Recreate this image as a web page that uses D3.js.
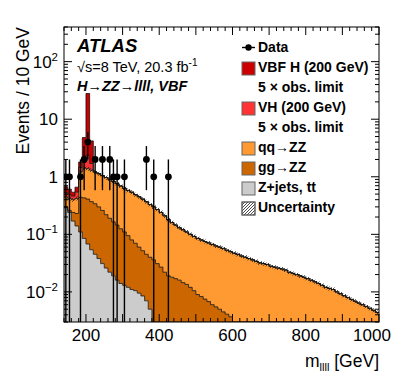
<!DOCTYPE html>
<html>
<head>
<meta charset="utf-8">
<script src="https://cdn.jsdelivr.net/npm/d3@7"></script>
<style>
  body { margin: 0; background: #fff; }
  svg { font-family: "Liberation Sans", Arial, Helvetica, sans-serif; }
</style>
</head>
<body>
<div id="chart"></div>
<script>
// binning: 10 GeV bins from 140 to 1000 GeV
const binLow = 140, binWidth = 10;

// Z+jets, tt (per bin, 145 ... 995 GeV)
const zjets = [
  0.29, 0.24, 0.17, 0.14, 0.11, 0.085, 0.068, 0.054, 0.045, 0.038,
  0.031, 0.026, 0.022, 0.019, 0.016, 0.014, 0.013, 0.012, 0.011, 0.0105,
  0.0095, 0.0085, 0.007, 0.005, 0, 0, 0, 0, 0, 0,
  0, 0, 0, 0, 0, 0, 0, 0, 0, 0,
  0, 0, 0, 0, 0, 0, 0, 0, 0, 0,
  0, 0, 0, 0, 0, 0, 0, 0, 0, 0,
  0, 0, 0, 0, 0, 0, 0, 0, 0, 0,
  0, 0, 0, 0, 0, 0, 0, 0, 0, 0,
  0, 0, 0, 0, 0, 0
];
// gg -> ZZ
const ggzz = [
  0.01, 0.02, 0.07, 0.09, 0.33, 0.345, 0.342, 0.316, 0.295, 0.262,
  0.229, 0.194, 0.168, 0.146, 0.129, 0.111, 0.097, 0.083, 0.069, 0.0595,
  0.0505, 0.0435, 0.038, 0.035, 0.036, 0.031, 0.027, 0.022, 0.019, 0.018,
  0.017, 0.016, 0.0145, 0.0135, 0.012, 0.0105, 0.009, 0.0083, 0.0075, 0.0068,
  0.006, 0.0055, 0.005, 0.0045, 0.0041, 0.0037, 0, 0, 0, 0,
  0, 0, 0, 0, 0, 0, 0, 0, 0, 0,
  0, 0, 0, 0, 0, 0, 0, 0, 0, 0,
  0, 0, 0, 0, 0, 0, 0, 0, 0, 0,
  0, 0, 0, 0, 0, 0
];
// qq -> ZZ
const qqzz = [
  0.15, 0.16, 0.16, 0.19, 0.76, 0.97, 0.97, 0.93, 0.87, 0.83,
  0.79, 0.75, 0.71, 0.665, 0.615, 0.565, 0.52, 0.485, 0.46, 0.42,
  0.39, 0.358, 0.325, 0.29, 0.264, 0.239, 0.213, 0.188, 0.161, 0.142,
  0.128, 0.114, 0.1055, 0.0965, 0.088, 0.0815, 0.076, 0.0717, 0.0675, 0.0642,
  0.061, 0.0575, 0.055, 0.0525, 0.0489, 0.0463, 0.047, 0.045, 0.042, 0.040,
  0.038, 0.036, 0.034, 0.032, 0.031, 0.030, 0.028, 0.027, 0.026, 0.025,
  0.024, 0.022, 0.021, 0.020, 0.019, 0.018, 0.017, 0.016, 0.015, 0.014,
  0.013, 0.012, 0.0115, 0.011, 0.010, 0.0093, 0.0086, 0.008, 0.0074, 0.0069,
  0.0064, 0.006, 0.0056, 0.0052, 0.0048, 0.0044
];
// VH (200 GeV), 5 x obs. limit
const vh = [0.08, 0.07, 0.06, 0.12, 0.25, 0.4, 1.0, 0.4];
// VBF H (200 GeV), 5 x obs. limit
const vbf = [0.14, 0.12, 0.08, 0.12, 0.35, 3.0, 25.6, 2.5];
const bkgUncFrac = 0.08;

// data
const dataMass = [145, 155, 185, 195, 205, 225, 245, 265, 275, 285, 305, 365, 385, 425];
const dataCount = [1, 1, 1, 2, 4, 2, 2, 2, 1, 1, 1, 2, 1, 1];

const xTickLabels = [200, 400, 600, 800, 1000];
const yDecades = [0.01, 0.1, 1, 10, 100];

const colors = {
  vbf: "#cc0000", vh: "#ff3333", qq: "#ff9a33", gg: "#cc6600", zj: "#cccccc"
};

const margin = { top: 27, right: 20, bottom: 61, left: 64 },
      width = 399 - margin.left - margin.right,
      height = 383 - margin.top - margin.bottom;

const svg = d3.select("#chart").append("svg")
  .attr("width", 399).attr("height", 383);

const defs = svg.append("defs");
const hatch = defs.append("pattern")
  .attr("id", "hatch").attr("patternUnits", "userSpaceOnUse")
  .attr("width", 3).attr("height", 3);
hatch.append("path").attr("d", "M-1,1 l2,-2 M0,3 l3,-3 M2,4 l2,-2")
  .attr("stroke", "#222").attr("stroke-width", 0.8);
defs.append("clipPath").attr("id", "frame")
  .append("rect").attr("width", width).attr("height", height);

const g = svg.append("g").attr("transform", `translate(${margin.left},${margin.top})`);

const x = d3.scaleLinear().domain([140, 1000]).range([0, width]);
const yMin = 0.003;
const y = d3.scaleLog().domain([yMin, 400]).range([height, 0]).clamp(true);
const yv = v => y(Math.max(v, yMin));

const nBins = qqzz.length;
const get = (arr, i) => arr[i] || 0;

// cumulative stack, bottom to top
const layers = [
  { key: "zj", values: zjets },
  { key: "gg", values: ggzz },
  { key: "qq", values: qqzz },
  { key: "vh", values: vh },
  { key: "vbf", values: vbf }
];
let running = d3.range(nBins).map(() => 0);
layers.forEach(l => {
  l.lower = running.slice();
  l.upper = running.map((r, i) => r + get(l.values, i));
  running = l.upper;
});
const bkgTotal = layers[2].upper;

function steps(lower, upper) {
  const pts = [];
  for (let i = 0; i < nBins; i++) {
    const lo = binLow + i * binWidth;
    pts.push({ x: lo, y0: lower[i], y1: upper[i] });
    pts.push({ x: lo + binWidth, y0: lower[i], y1: upper[i] });
  }
  return pts;
}

const area = d3.area().x(d => x(d.x)).y0(d => yv(d.y0)).y1(d => yv(d.y1));
const topLine = d3.line().x(d => x(d.x)).y(d => yv(d.y1));

const plot = g.append("g").attr("clip-path", "url(#frame)");

layers.slice().reverse().forEach(l => {
  const pts = steps(l.lower, l.upper);
  plot.append("path").datum(pts)
    .attr("fill", colors[l.key]).attr("d", area);
});
layers.forEach(l => {
  const pts = steps(l.lower, l.upper);
  plot.append("path").datum(pts)
    .attr("fill", "none").attr("stroke", "#111").attr("stroke-width", 0.8)
    .attr("d", topLine);
});

// uncertainty band on total background
plot.append("path")
  .datum(steps(bkgTotal.map(v => v * (1 - bkgUncFrac)), bkgTotal.map(v => v * (1 + bkgUncFrac))))
  .attr("fill", "url(#hatch)").attr("d", area);

// data
const pts = dataMass.map((m, i) => ({ m, n: dataCount[i] }));
plot.selectAll(".ey").data(pts).join("line")
  .attr("x1", d => x(d.m)).attr("x2", d => x(d.m))
  .attr("y1", d => yv(d.n + Math.sqrt(d.n))).attr("y2", d => yv(d.n - Math.sqrt(d.n)))
  .attr("stroke", "#000").attr("stroke-width", 1.4);
plot.selectAll(".ex").data(pts).join("line")
  .attr("x1", d => x(d.m - binWidth / 2)).attr("x2", d => x(d.m + binWidth / 2))
  .attr("y1", d => y(d.n)).attr("y2", d => y(d.n))
  .attr("stroke", "#000").attr("stroke-width", 1.4);
plot.selectAll("circle").data(pts).join("circle")
  .attr("cx", d => x(d.m)).attr("cy", d => y(d.n)).attr("r", 3.4).attr("fill", "#000");

// frame and ticks
g.append("rect").attr("width", width).attr("height", height)
  .attr("fill", "none").attr("stroke", "#000").attr("stroke-width", 1);

const ticks = g.append("g").attr("stroke", "#000").attr("stroke-width", 1);
d3.range(140, 1001, 20).forEach(v => {
  const len = v % 100 === 0 ? 8 : 4;
  ticks.append("line").attr("x1", x(v)).attr("x2", x(v)).attr("y1", height).attr("y2", height - len);
  ticks.append("line").attr("x1", x(v)).attr("x2", x(v)).attr("y1", 0).attr("y2", len);
});
const yMinor = [];
[0.001, 0.01, 0.1, 1, 10, 100].forEach(d => {
  for (let k = 2; k <= 9; k++) if (k * d >= yMin && k * d <= 400) yMinor.push(k * d);
});
yMinor.forEach(v => {
  ticks.append("line").attr("x1", 0).attr("x2", 4).attr("y1", y(v)).attr("y2", y(v));
  ticks.append("line").attr("x1", width).attr("x2", width - 4).attr("y1", y(v)).attr("y2", y(v));
});
yDecades.forEach(v => {
  ticks.append("line").attr("x1", 0).attr("x2", 8).attr("y1", y(v)).attr("y2", y(v));
  ticks.append("line").attr("x1", width).attr("x2", width - 8).attr("y1", y(v)).attr("y2", y(v));
});

// tick labels
const fontTick = 17;
g.selectAll(".xl").data(xTickLabels).join("text")
  .attr("x", d => d === 1000 ? x(d) - 7 : x(d)).attr("y", height + 19)
  .attr("text-anchor", "middle").attr("font-size", fontTick)
  .text(d => d);

yDecades.forEach(v => {
  const e = Math.round(Math.log10(v));
  const t = g.append("text").attr("x", -6).attr("y", y(v) + 6)
    .attr("text-anchor", "end").attr("font-size", fontTick);
  if (e === 0) t.text("1");
  else if (e === 1) t.text("10");
  else {
    t.append("tspan").text("10");
    t.append("tspan").attr("dy", -7).attr("font-size", 11.5).text(e < 0 ? "\u2212" + (-e) : e);
  }
});

// axis titles
const xt = svg.append("text").attr("x", margin.left + width).attr("y", 367)
  .attr("text-anchor", "end").attr("font-size", 17.5);
xt.append("tspan").text("m");
xt.append("tspan").attr("dy", 4).attr("font-size", 11).text("llll");
xt.append("tspan").attr("dy", -4).text(" [GeV]");

svg.append("text")
  .attr("transform", `translate(29,${margin.top}) rotate(-90)`)
  .attr("text-anchor", "end").attr("font-size", 17.5)
  .text("Events / 10 GeV");

// ATLAS labels
svg.append("text").attr("x", 77).attr("y", 52)
  .attr("font-size", 18.5).attr("font-weight", "bold").attr("font-style", "italic")
  .text("ATLAS");
const en = svg.append("text").attr("x", 77).attr("y", 72).attr("font-size", 14.5);
en.append("tspan").text("\u221As=8 TeV, 20.3 fb");
en.append("tspan").attr("dy", -6).attr("font-size", 10).text("-1");
svg.append("text").attr("x", 77).attr("y", 91)
  .attr("font-size", 14.5).attr("font-weight", "bold").attr("font-style", "italic")
  .text("H\u2192ZZ\u2192llll, VBF");

// legend
const legendItems = [
  { label: "Data", kind: "data" },
  { label: "VBF H (200 GeV)", kind: "vbf" },
  { label: "5 \u00D7 obs. limit", kind: "none" },
  { label: "VH (200 GeV)", kind: "vh" },
  { label: "5 \u00D7 obs. limit", kind: "none" },
  { label: "qq\u2192ZZ", kind: "qq" },
  { label: "gg\u2192ZZ", kind: "gg" },
  { label: "Z+jets, tt", kind: "zj" },
  { label: "Uncertainty", kind: "unc" }
];
const leg = svg.append("g");
legendItems.forEach((d, i) => {
  const by = 52 + i * 20;
  if (d.kind === "data") {
    leg.append("line").attr("x1", 242).attr("x2", 255).attr("y1", by - 4.5).attr("y2", by - 4.5)
      .attr("stroke", "#000").attr("stroke-width", 1.4);
    leg.append("circle").attr("cx", 248.5).attr("cy", by - 4.5).attr("r", 3.2).attr("fill", "#000");
  } else if (d.kind === "unc") {
    leg.append("rect").attr("x", 242).attr("y", by - 10).attr("width", 13).attr("height", 13)
      .attr("fill", "#fff").attr("stroke", "#666");
    leg.append("rect").attr("x", 242).attr("y", by - 10).attr("width", 13).attr("height", 13)
      .attr("fill", "url(#hatch)").attr("stroke", "#666");
  } else if (d.kind !== "none") {
    leg.append("rect").attr("x", 242).attr("y", by - 10).attr("width", 13).attr("height", 13)
      .attr("fill", colors[d.kind]).attr("stroke", "#666");
  }
  leg.append("text").attr("x", 258).attr("y", by)
    .attr("font-size", 14).attr("font-weight", "bold").text(d.label);
});
</script>
</body>
</html>
